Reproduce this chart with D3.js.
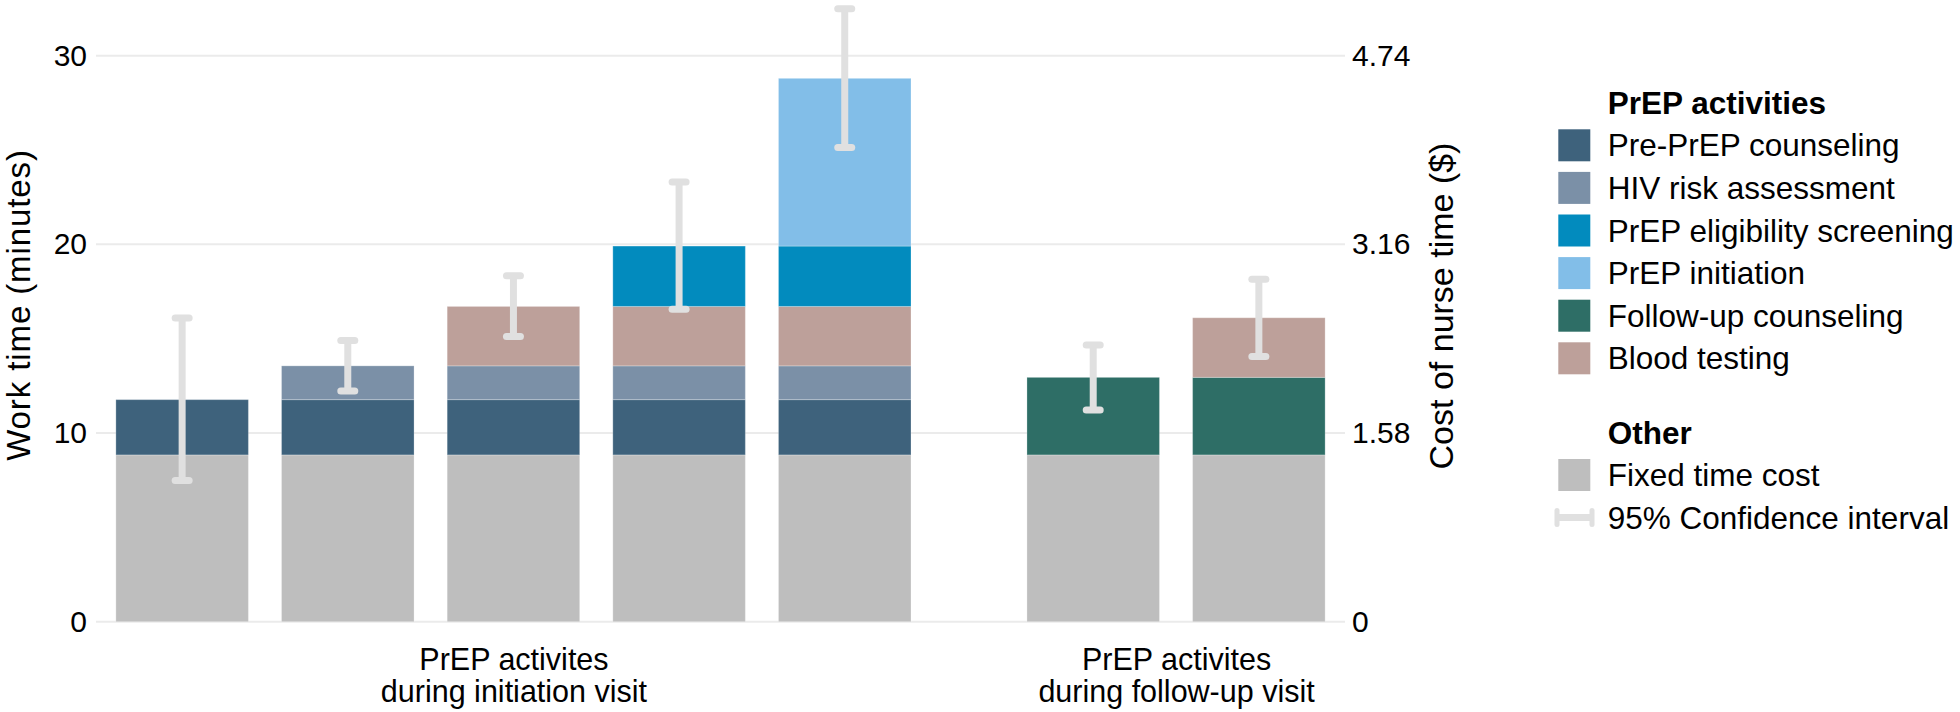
<!DOCTYPE html>
<html>
<head>
<meta charset="utf-8">
<script src="https://cdn.jsdelivr.net/npm/d3@7"></script>
<style>
  html, body { margin: 0; padding: 0; background: #ffffff; }
  svg { display: block; font-family: "Liberation Sans", Arial, Helvetica, sans-serif; }
</style>
</head>
<body>
<svg id="chart" width="1960" height="712"></svg>
<script>
// ---------- DATA ----------
const barPositions = [1, 2, 3, 4, 5, 6.5, 7.5];
const fixedTime      = [8.84, 8.84, 8.84, 8.84, 8.84, 8.84, 8.84];
const prePrepCounsel = [2.93, 2.93, 2.93, 2.93, 2.93, 0, 0];
const hivRisk        = [0, 1.79, 1.79, 1.79, 1.79, 0, 0];
const followUpCounsel= [0, 0, 0, 0, 0, 4.11, 4.11];
const bloodTesting   = [0, 0, 3.15, 3.15, 3.15, 0, 3.16];
const eligibility    = [0, 0, 0, 3.2, 3.2, 0, 0];
const initiation     = [0, 0, 0, 0, 8.89, 0, 0];
const ciLower = [7.48, 12.23, 15.11, 16.56, 25.13, 11.22, 14.06];
const ciUpper = [16.1, 14.9, 18.34, 23.3, 32.49, 14.66, 18.15];

const leftTicks = [0, 10, 20, 30];
const rightTickLabels = ["0", "1.58", "3.16", "4.74"];
const groupLabelPositions = [3, 7];
const groupLabels = [["PrEP activites", "during initiation visit"], ["PrEP activites", "during follow-up visit"]];

const seriesNames = ["Fixed time cost", "Pre-PrEP counseling", "HIV risk assessment", "Follow-up counseling",
                     "Blood testing", "PrEP eligibility screening", "PrEP initiation"];
const seriesValues = [fixedTime, prePrepCounsel, hivRisk, followUpCounsel, bloodTesting, eligibility, initiation];
const seriesColors = {
  "Fixed time cost": "#bebebe",
  "Pre-PrEP counseling": "#3e627c",
  "HIV risk assessment": "#7b90a7",
  "PrEP eligibility screening": "#028bbe",
  "PrEP initiation": "#82bee8",
  "Follow-up counseling": "#2e6e66",
  "Blood testing": "#bda09a"
};
const legendActivities = ["Pre-PrEP counseling", "HIV risk assessment", "PrEP eligibility screening",
                          "PrEP initiation", "Follow-up counseling", "Blood testing"];

// ---------- LAYOUT ----------
const svg = d3.select("#chart");
const plotLeft = 96, plotRight = 1345;
const x = d3.scaleLinear().domain([0.48, 8.02]).range([plotLeft, plotRight]);
const y = d3.scaleLinear().domain([0, 30]).range([621.7, 55.7]);
const barWidth = 0.8;
const errColor = "#e0e0e0";

// table for stacking
const table = barPositions.map((p, i) => {
  const row = { pos: p };
  seriesNames.forEach((n, k) => row[n] = seriesValues[k][i]);
  return row;
});
const stacked = d3.stack().keys(seriesNames)(table);

// gridlines
svg.append("g").selectAll("line").data(leftTicks).join("line")
  .attr("x1", plotLeft).attr("x2", plotRight)
  .attr("y1", d => y(d)).attr("y2", d => y(d))
  .attr("stroke", "#ebebeb").attr("stroke-width", 2);

// bars
const layers = svg.append("g").selectAll("g").data(stacked).join("g")
  .attr("fill", d => seriesColors[d.key]);
layers.selectAll("rect").data(d => d.filter(s => s[1] - s[0] > 0)).join("rect")
  .attr("x", d => x(d.data.pos - barWidth / 2))
  .attr("width", d => x(d.data.pos + barWidth / 2) - x(d.data.pos - barWidth / 2))
  .attr("y", d => y(d[1]))
  .attr("height", d => y(d[0]) - y(d[1]))
  .attr("stroke", "rgba(255,255,255,0.25)").attr("stroke-width", 1);

// error bars
const eg = svg.append("g").attr("stroke", errColor).attr("stroke-width", 7).attr("stroke-linecap", "round");
barPositions.forEach((p, i) => {
  eg.append("line").attr("x1", x(p)).attr("x2", x(p)).attr("y1", y(ciLower[i])).attr("y2", y(ciUpper[i]))
    .attr("stroke-linecap", "butt");
  [ciLower[i], ciUpper[i]].forEach(v => {
    eg.append("line").attr("x1", x(p) - 7).attr("x2", x(p) + 7).attr("y1", y(v)).attr("y2", y(v));
  });
});

// left axis
const axL = svg.append("g").attr("transform", `translate(${plotLeft},0)`)
  .call(d3.axisLeft(y).tickValues(leftTicks).tickSize(0).tickPadding(9).tickFormat(d3.format("d")));
axL.select(".domain").remove();
axL.selectAll("text").attr("font-size", 30).attr("fill", "#000").attr("font-family", null);

// right axis
const axR = svg.append("g").attr("transform", `translate(${plotRight},0)`)
  .call(d3.axisRight(y).tickValues(leftTicks).tickSize(0).tickPadding(7)
    .tickFormat((d, i) => rightTickLabels[i]));
axR.select(".domain").remove();
axR.selectAll("text").attr("font-size", 30).attr("fill", "#000").attr("font-family", null);

// bottom group labels
const axB = svg.append("g").attr("transform", `translate(0,621.7)`)
  .call(d3.axisBottom(x).tickValues(groupLabelPositions).tickSize(0).tickFormat(""));
axB.select(".domain").remove();
axB.selectAll(".tick").each(function (d, i) {
  const t = d3.select(this).append("text").attr("fill", "#000").attr("font-size", 30.5)
    .attr("text-anchor", "middle");
  groupLabels[i].forEach((line, j) => {
    t.append("tspan").attr("x", 0).attr("y", 48 + j * 32).text(line);
  });
});

// axis titles
svg.append("text").attr("transform", "translate(30,305) rotate(-90)")
  .attr("text-anchor", "middle").attr("font-size", 33).attr("letter-spacing", 0.9).attr("fill", "#000")
  .text("Work time (minutes)");
svg.append("text").attr("transform", "translate(1453,306) rotate(-90)")
  .attr("text-anchor", "middle").attr("font-size", 34).attr("fill", "#000")
  .text("Cost of nurse time ($)");

// legend
const lg = svg.append("g");
const keyX = 1558.3, textX = 1607.7, keySize = 32, pitch = 42.6;
lg.append("text").attr("x", textX).attr("y", 114.3).attr("font-size", 31.5).attr("font-weight", "bold")
  .text("PrEP activities");
legendActivities.forEach((name, i) => {
  const top = 129.3 + i * pitch;
  lg.append("rect").attr("x", keyX).attr("y", top).attr("width", keySize).attr("height", keySize)
    .attr("fill", seriesColors[name]);
  lg.append("text").attr("x", textX).attr("y", top + keySize / 2).attr("dy", "0.35em")
    .attr("font-size", 31.5).text(name);
});
lg.append("text").attr("x", textX).attr("y", 444).attr("font-size", 31.5).attr("font-weight", "bold")
  .text("Other");
lg.append("rect").attr("x", keyX).attr("y", 459).attr("width", keySize).attr("height", keySize)
  .attr("fill", seriesColors["Fixed time cost"]);
lg.append("text").attr("x", textX).attr("y", 475).attr("dy", "0.35em").attr("font-size", 31.5)
  .text("Fixed time cost");
const ciY = 517.6;
lg.append("line").attr("x1", 1556).attr("x2", 1593).attr("y1", ciY).attr("y2", ciY)
  .attr("stroke", errColor).attr("stroke-width", 7);
[1557, 1592].forEach(cx => lg.append("line").attr("x1", cx).attr("x2", cx).attr("y1", ciY - 7).attr("y2", ciY + 7)
  .attr("stroke", errColor).attr("stroke-width", 5).attr("stroke-linecap", "round"));
lg.append("text").attr("x", textX).attr("y", ciY).attr("dy", "0.35em").attr("font-size", 31.5)
  .text("95% Confidence interval");
</script>
</body>
</html>
